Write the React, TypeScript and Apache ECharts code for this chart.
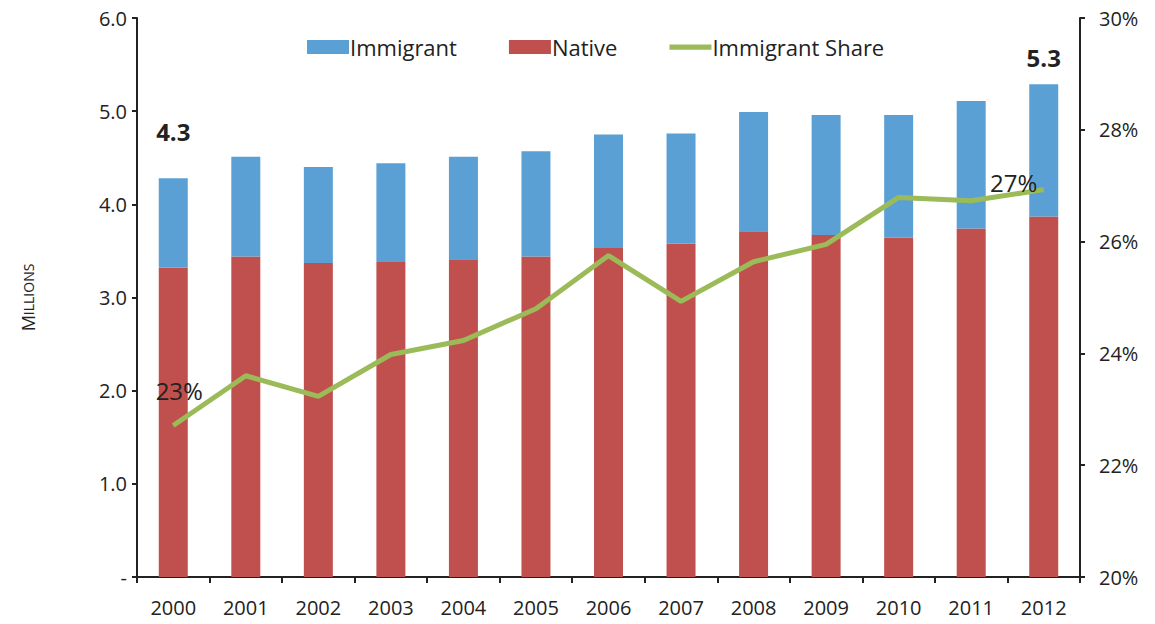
import React, { useEffect, useRef } from "react";
import * as echarts from "echarts";

const years = ["2000","2001","2002","2003","2004","2005","2006","2007","2008","2009","2010","2011","2012"];
const native = [3.32,3.44,3.37,3.38,3.41,3.44,3.53,3.58,3.71,3.67,3.64,3.74,3.87];
const immigrant = [0.96,1.07,1.03,1.06,1.10,1.13,1.22,1.18,1.28,1.29,1.32,1.37,1.42];
const immigrantShare = [22.71,23.6,23.23,23.98,24.23,24.8,25.75,24.93,25.64,25.95,26.79,26.73,26.93];
const leftTicks = [0,1,2,3,4,5,6];
const rightTicks = [20,22,24,26,28,30];

const FONT = "Open Sans";

export default function App() {
  const ref = useRef<HTMLDivElement>(null);
  useEffect(() => {
    const chart = echarts.init(ref.current!, null, { renderer: "svg" });
    const last = years.length - 1;
    const totals = native.map((n, i) => n + immigrant[i]);
    const immData = immigrant.map((v, i) => {
      if (i === 0 || i === last) {
        return {
          value: v,
          label: {
            show: true,
            position: "top",
            offset: i === 0 ? [0, -30] : [0, -10],
            formatter: () => totals[i].toFixed(1),
            fontFamily: FONT,
            fontWeight: "bold",
            fontSize: 24,
            color: "#222",
          },
        };
      }
      return v;
    });
    const shareData = immigrantShare.map((v, i) => {
      if (i === 0 || i === last) {
        return {
          value: v,
          label: {
            show: true,
            position: "top",
            offset: i === 0 ? [6, -18] : [-30, 10],
            formatter: () => Math.round(v) + "%",
            fontFamily: FONT,
            fontSize: 24,
            color: "#222",
          },
        };
      }
      return v;
    });
    chart.setOption({
      animation: false,
      backgroundColor: "#fff",
      legend: {
        left: 302,
        top: 31,
        itemWidth: 42,
        itemHeight: 14,
        itemGap: 52,
        textStyle: { fontFamily: FONT, fontSize: 22, color: "#222", padding: [0, 0, 0, -4] },
        data: [
          { name: "Immigrant", icon: "rect" },
          { name: "Native", icon: "rect" },
          { name: "Immigrant Share", icon: "path://M0,0H40V5H0Z" },
        ],
      },
      grid: { left: 137, right: 75, top: 18, bottom: 47 },
      xAxis: {
        type: "category",
        data: years,
        axisLine: { lineStyle: { color: "#222", width: 2 } },
        axisTick: { show: true, length: 6, lineStyle: { color: "#222", width: 2 } },
        axisLabel: { fontFamily: FONT, fontSize: 20, color: "#222", margin: 20 },
      },
      yAxis: [
        {
          type: "value",
          min: leftTicks[0],
          max: leftTicks[leftTicks.length - 1],
          interval: 1,
          name: "{a|M}{b|ILLIONS}",
          nameLocation: "middle",
          nameGap: 100,
          nameRotate: 90,
          nameTextStyle: {
            rich: {
              a: { fontFamily: FONT, fontSize: 18, color: "#222" },
              b: { fontFamily: FONT, fontSize: 14, color: "#222" },
            },
          },
          splitLine: { show: false },
          axisLine: { show: true, lineStyle: { color: "#222", width: 2 } },
          axisTick: { show: true, length: 5, lineStyle: { color: "#222", width: 2 } },
          axisLabel: {
            fontFamily: FONT,
            fontSize: 20,
            color: "#222",
            margin: 10,
            formatter: (v: number) => (v === 0 ? "-" : v.toFixed(1)),
          },
        },
        {
          type: "value",
          min: rightTicks[0],
          max: rightTicks[rightTicks.length - 1],
          interval: 2,
          position: "right",
          splitLine: { show: false },
          axisLine: { show: true, lineStyle: { color: "#222", width: 2 } },
          axisTick: { show: true, length: 5, lineStyle: { color: "#222", width: 2 } },
          axisLabel: {
            fontFamily: FONT,
            fontSize: 20,
            color: "#222",
            margin: 19,
            formatter: (v: number) => v + "%",
          },
        },
      ],
      series: [
        {
          name: "Native",
          type: "bar",
          stack: "total",
          data: native,
          barWidth: 29,
          itemStyle: { color: "#C0504D" },
        },
        {
          name: "Immigrant",
          type: "bar",
          stack: "total",
          data: immData,
          barWidth: 29,
          itemStyle: { color: "#5BA0D4" },
        },
        {
          name: "Immigrant Share",
          type: "line",
          yAxisIndex: 1,
          data: shareData,
          symbol: "circle",
          symbolSize: 1,
          showSymbol: true,
          itemStyle: { color: "#9BBB59" },
          lineStyle: { color: "#9BBB59", width: 5 },
          z: 5,
        },
      ],
    });
    return () => chart.dispose();
  }, []);
  return <div ref={ref} style={{ width: 1155, height: 624, position: "absolute", left: 0, top: 0 }} />;
}
